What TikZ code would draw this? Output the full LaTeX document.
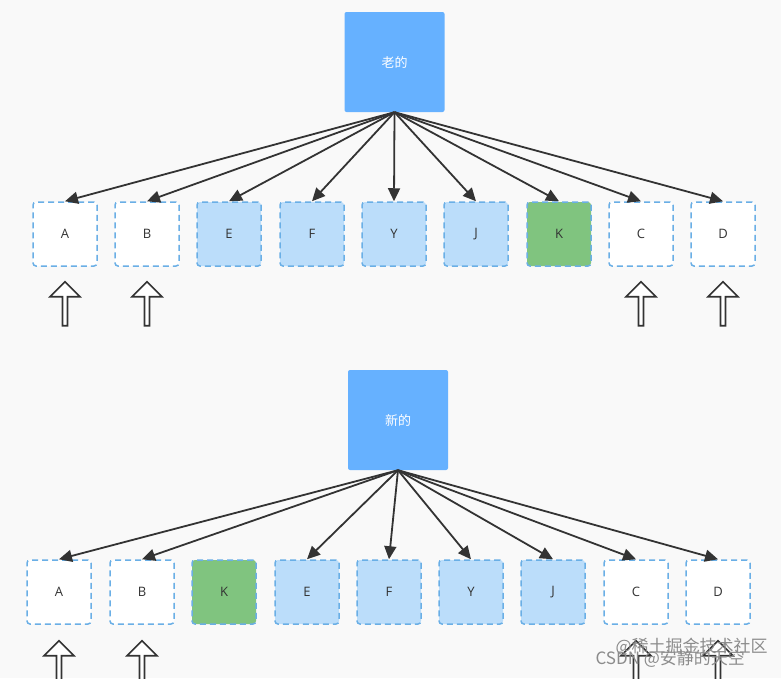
\documentclass[tikz,border=0pt]{standalone}
\usepackage{fontspec}
\setmainfont{Open Sans}
\newfontfamily\cjk{Noto Sans CJK SC}
\usetikzlibrary{arrows.meta,shapes.arrows}
\definecolor{bg}{HTML}{F9F9F9}
\definecolor{rootc}{HTML}{66B1FF}
\definecolor{lb}{HTML}{BBDDFA}
\definecolor{bd}{HTML}{6AAFE6}
\definecolor{gr}{HTML}{80C47F}
\tikzset{
 root/.style={draw=none,fill=rootc,rounded corners=2pt,minimum width=100pt,minimum height=100pt,text=white,font=\cjk\fontsize{13}{15}\selectfont},
 box/.style={draw=bd,dashed,dash pattern=on 6pt off 4pt,line width=1.5pt,rounded corners=3pt,minimum width=64pt,minimum height=64pt,fill=white,font=\fontsize{13}{15}\selectfont,text=black!80},
 blue/.style={box,fill=lb},
 green/.style={box,fill=gr},
 con/.style={draw=black!80,line width=1.8pt,-{Triangle[length=13pt,width=12pt]}},
 up/.style={single arrow,draw=black!80,line width=1.6pt,fill=white,shape border rotate=90,minimum width=30pt,single arrow head extend=9pt,single arrow head indent=0pt,minimum height=44pt,inner sep=1pt},
 wm/.style={text=black!45,font=\cjk\fontsize{17}{19}\selectfont}
}
\begin{document}
\begin{tikzpicture}[x=1pt,y=-1pt]
\fill[bg] (0,0) rectangle (781,678);
\useasboundingbox (0,0) rectangle (781,678);
% top
\node[root] (r1) at (394.5,62) {老的};
\foreach \n/\x/\s in {A/65/box,B/147/box,E/229/blue,F/312/blue,Y/394/blue,J/476/blue,K/559/green,C/641/box,D/723/box}{
  \node[\s] (t\n) at (\x,234) {\n};
  \draw[con] (r1.south) -- (t\n.north);
}
\foreach \n/\x in {A/65,B/147,C/641,D/723}{
  \node[up] (u\n) at (\x,305) {};
}
% bottom
\node[root] (r2) at (398,420) {新的};
\foreach \n/\x/\s in {A/59/box,B/142/box,K/224/green,E/307/blue,F/389/blue,Y/471/blue,J/553/blue,C/636/box,D/718/box}{
  \node[\s] (b\n) at (\x,592) {\n};
}
\foreach \n in {A,B,E,F,Y,J,C,D}{
  \draw[con] (r2.south) -- (b\n.north);
}
\foreach \n/\x in {A/59,B/142,C/636,D/718}{
  \node[up] (v\n) at (\x,664) {};
}
\node[wm,anchor=west] (w1) at (612,647) {@稀土掘金技术社区};
\node[wm,anchor=west] (w2) at (592,659) {CSDN @安静的天空};
\end{tikzpicture}
\end{document}
